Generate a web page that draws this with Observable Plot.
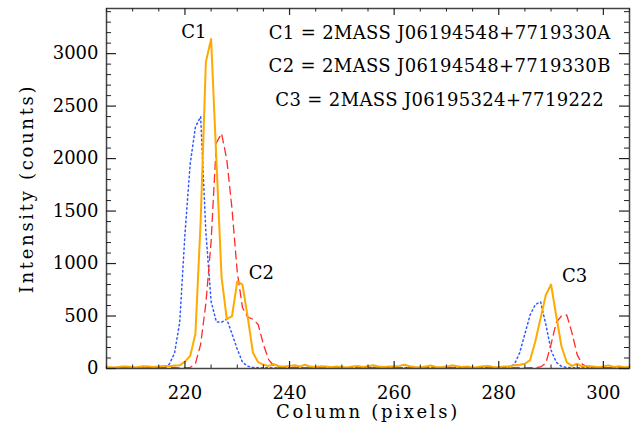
<!DOCTYPE html>
<html>
<head>
<meta charset="utf-8">
<script src="https://cdn.jsdelivr.net/npm/d3@7"></script>
<script src="https://cdn.jsdelivr.net/npm/@observablehq/plot@0.6"></script>
<style>
  html, body { margin: 0; padding: 0; background: #fff; }
  .ytitle, .xtitle { letter-spacing: 2.7px; }
  .idline { letter-spacing: 0.35px; }
</style>
</head>
<body>
<div id="chart"></div>
<script>
// Pixel columns (x) 205..305
const columns = d3.range(205, 306);

// Intensity (counts) per column
const solidOrange = [
  15, 10, 12, 20, 18, 12, 15, 22, 18, 15,
  20, 25, 22, 28, 30, 65, 120, 330, 1400, 2920,
  3140, 2000, 870, 470, 500, 830, 800, 490, 150, 60,
  35, 25, 40, 22, 18, 25, 30, 20, 35, 18,
  15, 22, 20, 12, 18, 15, 10, 20, 25, 15,
  22, 30, 20, 15, 20, 18, 25, 35, 22, 15,
  10, 20, 28, 15, 12, 18, 30, 22, 15, 20,
  10, 15, 22, 25, 15, 12, 20, 22, 30, 35,
  45, 80, 260, 480, 700, 800, 500, 210, 60, 25,
  45, 18, 25, 20, 12, 20, 30, 15, 22, 12,
  15
];
const dottedBlue = [
  8, 5, 10, 6, 12, 8, 5, 10, 7, 12,
  10, 18, 40, 145, 440, 1280, 1950, 2300, 2400, 1300,
  640, 445, 440, 470, 330, 185, 60, 22, 10, 8,
  6, 10, 5, 8, 12, 6, 9, 5, 10, 7,
  8, 12, 6, 5, 9, 11, 6, 8, 5, 10,
  7, 12, 8, 6, 10, 5, 9, 7, 11, 6,
  8, 5, 10, 7, 9, 6, 12, 8, 5, 10,
  6, 9, 7, 12, 8, 5, 10, 15, 40, 150,
  330, 510, 610, 635, 420, 175, 60, 20, 10, 8,
  6, 10, 5, 9, 7, 12, 6, 8, 5, 10,
  7
];
const dashedRed = [
  6, 10, 5, 8, 12, 7, 9, 5, 11, 6,
  8, 12, 7, 10, 6, 9, 10, 45, 230, 620,
  1210, 2150, 2240, 1990, 1520, 920, 580, 490, 470, 420,
  230, 85, 25, 10, 8, 6, 12, 7, 9, 5,
  10, 8, 6, 12, 7, 5, 9, 11, 6, 8,
  10, 5, 7, 12, 9, 6, 8, 10, 5, 7,
  11, 6, 9, 8, 5, 10, 7, 12, 6, 9,
  5, 8, 10, 7, 6, 12, 9, 5, 8, 10,
  6, 7, 9, 15, 50, 230, 440, 500, 510, 340,
  130, 40, 15, 8, 10, 6, 9, 12, 5, 8,
  7
];

// Axis ticks
const xMajorTicks = [220, 240, 260, 280, 300];
const xMinorTicks = [205, 210, 215, 225, 230, 235, 245, 250, 255, 265, 270, 275, 285, 290, 295, 305];
const yMajorTicks = [0, 500, 1000, 1500, 2000, 2500, 3000];
const yMinorTicks = [100, 200, 300, 400, 600, 700, 800, 900, 1100, 1200, 1300, 1400,
  1600, 1700, 1800, 1900, 2100, 2200, 2300, 2400, 2600, 2700, 2800, 2900, 3100, 3200, 3300, 3400];

// Annotation texts
const peakLabels = [
  {x: 221.7, y: 3200, text: "C1"},
  {x: 234.6, y: 905, text: "C2"},
  {x: 294.5, y: 876, text: "C3"}
];
const idLines = [
  {x: 268.7, y: 3190, text: "C1 = 2MASS J06194548+7719330A"},
  {x: 268.7, y: 2876, text: "C2 = 2MASS J06194548+7719330B"},
  {x: 268.7, y: 2552, text: "C3 = 2MASS J06195324+7719222"}
];

const W = 644, H = 432, ML = 106, MR = 15, MT = 8, MB = 64;
const FW = W - ML - MR, FH = H - MT - MB;
const xDomain = [205, 305], yDomain = [0, 3430];
// convert tick lengths in pixels to data units
const xpx = px => px * (xDomain[1] - xDomain[0]) / FW;
const ypx = px => px * (yDomain[1] - yDomain[0]) / FH;

const toRows = vals => columns.map((c, i) => ({col: c, v: vals[i]}));
const fmt = d3.format("d");
const id = d => d;
const tickStroke = "#222";

const chart = Plot.plot({
  width: W,
  height: H,
  marginLeft: ML,
  marginRight: MR,
  marginTop: MT,
  marginBottom: MB,
  style: {fontFamily: "'DejaVu Serif', serif", fontSize: "18px", color: "#000", background: "#fff"},
  x: {domain: xDomain, axis: null},
  y: {domain: yDomain, axis: null},
  marks: [
    Plot.line(toRows(dottedBlue), {x: "col", y: "v", stroke: "#3358ff", strokeWidth: 1.5, strokeDasharray: "1.5,3"}),
    Plot.line(toRows(dashedRed), {x: "col", y: "v", stroke: "#ff2a2a", strokeWidth: 1.3, strokeDasharray: "8,5"}),
    Plot.line(toRows(solidOrange), {x: "col", y: "v", stroke: "#ffaa00", strokeWidth: 2}),
    Plot.frame({stroke: "#444", strokeWidth: 1.5}),
    // x ticks bottom & top (inward)
    Plot.ruleX(xMajorTicks, {x: id, y1: yDomain[0], y2: yDomain[0] + ypx(7), stroke: tickStroke, strokeWidth: 1.2}),
    Plot.ruleX(xMinorTicks, {x: id, y1: yDomain[0], y2: yDomain[0] + ypx(3.5), stroke: tickStroke, strokeWidth: 1}),
    Plot.ruleX(xMajorTicks, {x: id, y1: yDomain[1] - ypx(7), y2: yDomain[1], stroke: tickStroke, strokeWidth: 1.2}),
    Plot.ruleX(xMinorTicks, {x: id, y1: yDomain[1] - ypx(3.5), y2: yDomain[1], stroke: tickStroke, strokeWidth: 1}),
    // y ticks left & right (inward)
    Plot.ruleY(yMajorTicks, {y: id, x1: xDomain[0], x2: xDomain[0] + xpx(10), stroke: tickStroke, strokeWidth: 1.2}),
    Plot.ruleY(yMinorTicks, {y: id, x1: xDomain[0], x2: xDomain[0] + xpx(5), stroke: tickStroke, strokeWidth: 1}),
    Plot.ruleY(yMajorTicks, {y: id, x1: xDomain[1] - xpx(10), x2: xDomain[1], stroke: tickStroke, strokeWidth: 1.2}),
    Plot.ruleY(yMinorTicks, {y: id, x1: xDomain[1] - xpx(5), x2: xDomain[1], stroke: tickStroke, strokeWidth: 1}),
    // tick labels
    Plot.text(xMajorTicks, {x: id, text: fmt, frameAnchor: "bottom", dy: 25, textAnchor: "middle", lineAnchor: "middle", fontSize: 18}),
    Plot.text(yMajorTicks, {y: id, text: fmt, frameAnchor: "left", dx: -8, textAnchor: "end", lineAnchor: "middle", fontSize: 18}),
    // axis titles
    Plot.text(["Column (pixels)"], {frameAnchor: "bottom", dy: 44, text: id, fontSize: 18, textAnchor: "middle", lineAnchor: "middle", className: "xtitle"}),
    Plot.text(["Intensity (counts)"], {frameAnchor: "left", dx: -79, rotate: -90, text: id, fontSize: 18, textAnchor: "middle", lineAnchor: "middle", className: "ytitle"}),
    // annotations
    Plot.text(peakLabels, {x: "x", y: "y", text: "text", fontSize: 18}),
    Plot.text(idLines, {x: "x", y: "y", text: "text", fontSize: 18, className: "idline"})
  ]
});
document.getElementById("chart").appendChild(chart);
</script>
</body>
</html>
